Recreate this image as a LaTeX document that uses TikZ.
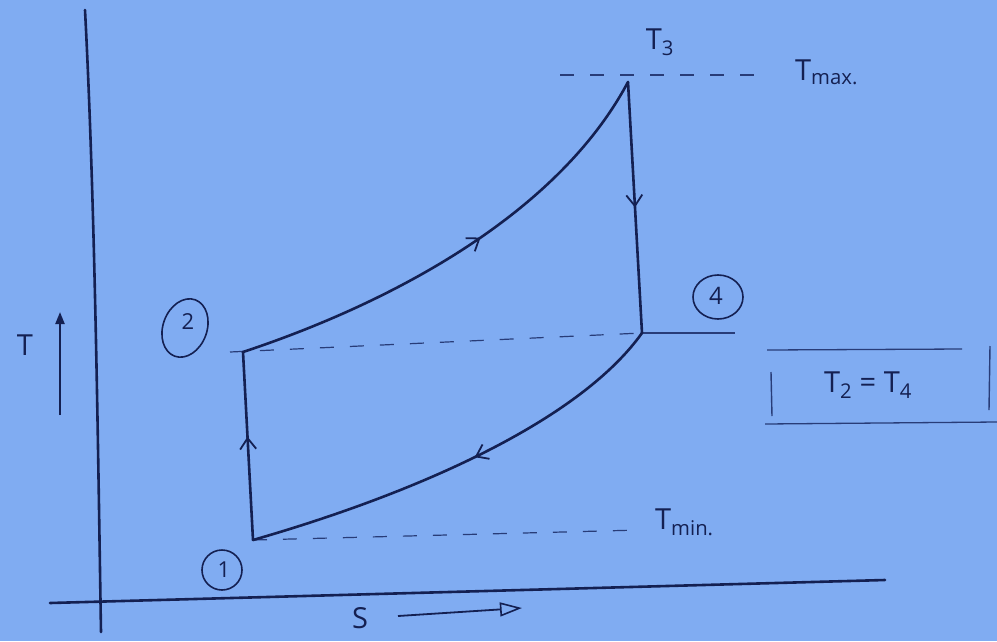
\documentclass[tikz,border=0pt]{standalone}
\usepackage{fontspec}
\setmainfont{Open Sans}
\usetikzlibrary{arrows.meta,decorations.markings,shapes.geometric}
\definecolor{paper}{RGB}{128,172,242}
\definecolor{ink}{RGB}{20,32,82}
\definecolor{pencil}{RGB}{40,60,120}
\begin{document}
\begin{tikzpicture}[x=1pt,y=-1pt,
  curve/.style={ink,line width=2.6pt,line cap=round,line join=round},
  guide/.style={pencil,line width=1.2pt,dash pattern=on 14pt off 16pt},
  axisline/.style={ink,line width=2.6pt,line cap=round},
  lbl/.style={ink,font=\fontsize{29}{31}\selectfont,inner sep=0pt},
  ring/.style={ink,draw,line width=1.6pt,ellipse,minimum width=#1,inner sep=0pt},
  midarrow/.style={postaction={decorate,decoration={markings,
     mark=at position #1 with {\arrow{Straight Barb[length=11pt,width=16pt,line width=1.8pt]}}}}}
]
\fill[paper] (0,0) rectangle (997,641);
\useasboundingbox (0,0) rectangle (997,641);

% axes
\coordinate (ytop) at (85,10);
\coordinate (ybot) at (101,632);
\coordinate (xl) at (50,603);
\coordinate (xr) at (885,580);
\draw[axisline] (ytop) .. controls (95,200) and (98,450) .. (ybot);
\draw[axisline] (xl) -- (xr);

% axis labels
\node[lbl] (tlab) at (25,345) {T};
\coordinate (tarrA) at (60,415);
\coordinate (tarrB) at (60,312);
\draw[ink,line width=2.2pt,-{Triangle[length=12pt,width=9pt]}] (tarrA) -- (tarrB);
\node[lbl] (slab) at (360,618) {S};
\coordinate (sarrA) at (398,616);
\coordinate (sarrB) at (522,608);
\draw[ink,line width=1.8pt,-{Triangle[open,length=22pt,width=14pt,line width=1.6pt]}] (sarrA) -- (sarrB);

% state points
\coordinate (p1) at (253,540);
\coordinate (p2) at (243,352);
\coordinate (p3) at (628,82);
\coordinate (p4) at (642,333);

% guide lines
\coordinate (tmaxA) at (560,75);
\coordinate (tmaxB) at (770,75);
\draw[guide] (tmaxA) -- (tmaxB);
\coordinate (l2A) at (230,352);
\draw[guide] (l2A) -- (p4);
\coordinate (l4B) at (735,333);
\draw[pencil,line width=1.4pt] (p4) -- (l4B);
\coordinate (tminB) at (640,530);
\draw[guide] (p1) -- (tminB);

% cycle
\draw[curve,midarrow=0.55] (p1) -- (p2);
\draw[curve,midarrow=0.55] (p2) .. controls (400,300) and (560,210) .. (p3);
\draw[curve,midarrow=0.5] (p3) -- (p4);
\draw[curve,midarrow=0.47] (p4) .. controls (580,420) and (420,492) .. (p1);

% texts
\node[lbl] (t3) at (660,42) {T\textsubscript{3}};
\node[lbl,anchor=west] (tmax) at (795,72) {T\textsubscript{max.}};
\node[lbl,anchor=west] (tmin) at (655,522) {T\textsubscript{min.}};

% circled numbers
\node[ring=44pt,minimum height=60pt,rotate=-20] (c2) at (185,328) {};
\node[lbl,font=\fontsize{22}{24}\selectfont] at (188,322) {2};
\node[ring=40pt,minimum height=40pt] (c1) at (222,570) {};
\node[lbl,font=\fontsize{22}{24}\selectfont] at (224,570) {1};
\node[ring=50pt,minimum height=44pt] (c4) at (718,297) {};
\node[lbl,font=\fontsize{24}{26}\selectfont] at (716,296) {4};

% T2 = T4 box
\node[lbl] (eq) at (868,385) {T\textsubscript{2} = T\textsubscript{4}};
\coordinate (bxTL) at (767,350);
\coordinate (bxTR) at (962,349);
\coordinate (bxBL) at (765,424);
\coordinate (bxBR) at (997,422);
\draw[pencil,line width=1.3pt] (bxTL) -- (bxTR);
\draw[pencil,line width=1.3pt] (bxBL) -- (bxBR);
\coordinate (lbA) at (771,372);
\coordinate (lbB) at (772,416);
\coordinate (rbA) at (990,346);
\coordinate (rbB) at (989,410);
\draw[pencil,line width=1.4pt] (lbA) -- (lbB);
\draw[pencil,line width=1.4pt] (rbA) -- (rbB);
\end{tikzpicture}
\end{document}
